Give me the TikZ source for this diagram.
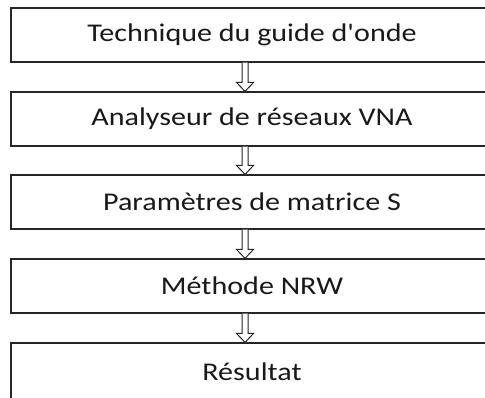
\documentclass[tikz,border=0pt]{standalone}
\usepackage{fontspec}
\setmainfont{Carlito}
\usetikzlibrary{calc}
\tikzset{
  box/.style={draw=black!85, line width=1.2pt, fill=white, minimum width=482pt, minimum height=54pt,
    inner sep=0pt, font=\fontsize{25.5}{30}\selectfont, text=black!90},
  harrow/.style={draw=black!85, line width=1pt, fill=white, line join=miter},
}
\newcommand{\wtext}[1]{\scalebox{1.18}[1]{#1}}
\newcommand{\hollowarrow}[2]{%
  \draw[harrow] let \p1=(#1.south), \p2=(#2.north) in
    (242,\y1) -- (242,\y2+9) -- (236.5,\y2+9) -- (245,\y2) -- (253.5,\y2+9) -- (248,\y2+9) -- (248,\y1);
}
\begin{document}
\begin{tikzpicture}[x=1pt,y=1pt]
\useasboundingbox (0,0) rectangle (485,-397);
\clip (0,0) rectangle (485,-397);
\fill[white] (0,0) rectangle (485,-397);
\node[box] (b1) at (252,-35) {\wtext{Technique du guide d\textquotesingle onde}};
\node[box] (b2) at (252,-119) {\wtext{Analyseur de réseaux VNA}};
\node[box] (b3) at (252,-202) {\wtext{Paramètres de matrice S}};
\node[box] (b4) at (252,-286) {\wtext{Méthode NRW}};
\node[box, minimum height=60pt] (b5) at (252,-373) {\raisebox{3pt}{\wtext{Résultat}}};
\hollowarrow{b1}{b2}
\hollowarrow{b2}{b3}
\hollowarrow{b3}{b4}
\hollowarrow{b4}{b5}
\end{tikzpicture}
\end{document}
